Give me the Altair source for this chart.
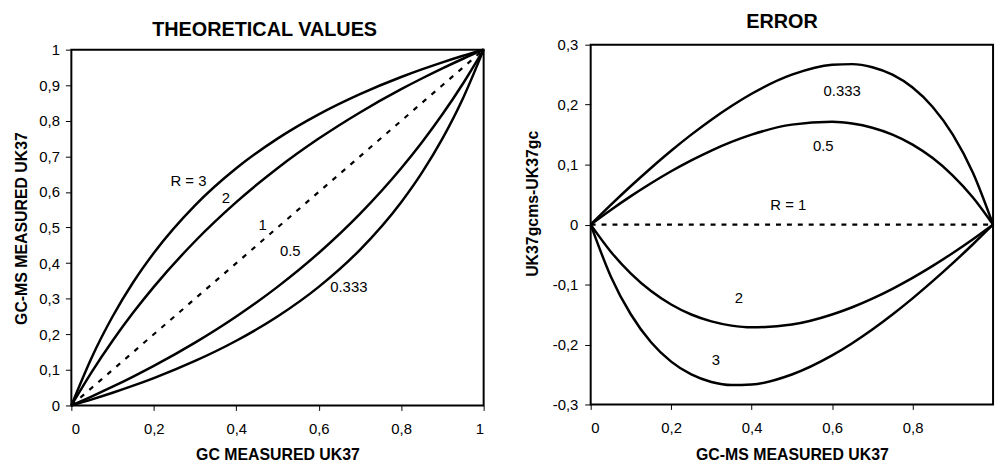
import altair as alt
import pandas as pd

# ---------------- data ----------------
# Left panel: GC measured UK37 (x) vs GC-MS measured UK37 (y)
left_x = [0, 0.05, 0.1, 0.15, 0.2, 0.3, 0.4, 0.5, 0.6, 0.7, 0.8, 0.85, 0.9, 0.95, 1]
left_r3 = [0, 0.1364, 0.25, 0.3462, 0.4286, 0.5625, 0.6667, 0.75, 0.8182, 0.875, 0.9231, 0.9444, 0.9643, 0.9828, 1]
left_r2 = [0, 0.0952, 0.1818, 0.2609, 0.3333, 0.4615, 0.5714, 0.6667, 0.75, 0.8235, 0.8889, 0.9189, 0.9474, 0.9744, 1]
left_r1 = [0, 0.05, 0.1, 0.15, 0.2, 0.3, 0.4, 0.5, 0.6, 0.7, 0.8, 0.85, 0.9, 0.95, 1]
left_r05 = [0, 0.0256, 0.0526, 0.0811, 0.1111, 0.1765, 0.25, 0.3333, 0.4286, 0.5385, 0.6667, 0.7391, 0.8182, 0.9048, 1]
left_r033 = [0, 0.0172, 0.0357, 0.0556, 0.0769, 0.125, 0.1818, 0.25, 0.3333, 0.4375, 0.5714, 0.6538, 0.75, 0.8636, 1]

# Right panel: GC-MS measured UK37 (x) vs error UK37gcms - UK37gc (y)
right_x = [0, 0.05, 0.1, 0.15, 0.2, 0.25, 0.3, 0.35, 0.4, 0.5, 0.6, 0.65, 0.7, 0.75, 0.8, 0.85, 0.9, 0.95, 1]
err_033 = [0, 0.0328, 0.0643, 0.0944, 0.1231, 0.15, 0.175, 0.1978, 0.2182, 0.25, 0.2667, 0.2676, 0.2625, 0.25, 0.2286, 0.1962, 0.15, 0.0864, 0]
err_05 = [0, 0.0244, 0.0474, 0.0689, 0.0889, 0.1071, 0.1235, 0.1379, 0.15, 0.1667, 0.1714, 0.1685, 0.1615, 0.15, 0.1333, 0.1109, 0.0818, 0.0452, 0]
err_1 = [0, 0, 0, 0, 0, 0, 0, 0, 0, 0, 0, 0, 0, 0, 0, 0, 0, 0, 0]
err_2 = [0, -0.0452, -0.0818, -0.1109, -0.1333, -0.15, -0.1615, -0.1685, -0.1714, -0.1667, -0.15, -0.1379, -0.1235, -0.1071, -0.0889, -0.0689, -0.0474, -0.0244, 0]
err_3 = [0, -0.0864, -0.15, -0.1962, -0.2286, -0.25, -0.2625, -0.2676, -0.2667, -0.25, -0.2182, -0.1978, -0.175, -0.15, -0.1231, -0.0944, -0.0643, -0.0328, 0]

# curve labels
left_lab_text = ["R = 3", "2", "1", "0.5", "0.333"]
left_lab_x = [0.284, 0.375, 0.464, 0.531, 0.673]
left_lab_y = [0.630, 0.582, 0.507, 0.435, 0.334]

right_lab_text = ["0.333", "0.5", "R = 1", "2", "3"]
right_lab_x = [0.625, 0.578, 0.491, 0.368, 0.311]
right_lab_y = [0.222, 0.131, 0.032, -0.123, -0.226]

left_ticks = [0, 0.1, 0.2, 0.3, 0.4, 0.5, 0.6, 0.7, 0.8, 0.9, 1]
left_xticks = [0, 0.2, 0.4, 0.6, 0.8, 1]
right_yticks = [-0.3, -0.2, -0.1, 0, 0.1, 0.2, 0.3]
right_xticks = [0, 0.2, 0.4, 0.6, 0.8]

# ---------------- tables ----------------
def long(xs, series):
    rows = []
    for name, ys in series.items():
        for i, (a, b) in enumerate(zip(xs, ys)):
            rows.append({"x": a, "y": b, "s": name, "o": i})
    return pd.DataFrame(rows)

left_solid = long(left_x, {"3": left_r3, "2": left_r2, "0.5": left_r05, "0.333": left_r033})
left_dash = long(left_x, {"1": left_r1})
right_solid = long(right_x, {"0.333": err_033, "0.5": err_05, "2": err_2, "3": err_3})
right_dash = long(right_x, {"1": err_1})
left_labels = pd.DataFrame({"x": left_lab_x, "y": left_lab_y, "t": left_lab_text})
right_labels = pd.DataFrame({"x": right_lab_x, "y": right_lab_y, "t": right_lab_text})

FONT = "Liberation Sans"
LABEL_EXPR = "replace(toString(datum.value), '.', ',')"

# ---------------- left panel ----------------
# the left frame sits a little lower than the right one; the y scale reaches
# slightly above 1 and the frame is drawn from 0 to 1
lx = alt.X("x:Q", scale=alt.Scale(domain=[0, 1], nice=False),
           axis=alt.Axis(values=left_xticks, title="GC MEASURED UK37", labelExpr=LABEL_EXPR,
                         tickSize=5, labelPadding=11, titleY=55, titleBaseline="alphabetic"))
ly = alt.Y("y:Q", scale=alt.Scale(domain=[0, 1.0139], nice=False),
           axis=alt.Axis(values=left_ticks, tickCount=12, title="GC-MS MEASURED UK37",
                         labelExpr=LABEL_EXPR, tickSize=6, labelPadding=6,
                         titleX=-44.8, titleY=185, titleBaseline="alphabetic"))

frame = alt.Chart(pd.DataFrame({"a": [0]})).mark_rect(
    fillOpacity=0, stroke="black", strokeWidth=2).encode(
    x=alt.datum(0), x2=alt.datum(1), y=alt.datum(0), y2=alt.datum(1))
l1 = alt.Chart(left_solid).mark_line(color="black", strokeWidth=2.5, interpolate="monotone").encode(
    x=lx, y=ly, detail="s:N", order="o:Q")
l2 = alt.Chart(left_dash).mark_line(color="black", strokeWidth=2.2, strokeDash=[5, 7]).encode(
    x="x:Q", y="y:Q", order="o:Q")
l3 = alt.Chart(left_labels).mark_text(font=FONT, fontSize=15, color="black").encode(
    x="x:Q", y="y:Q", text="t:N")

left = alt.layer(l1, l2, l3, frame).properties(
    width=416, height=364,
    view=alt.ViewBackground(stroke="transparent"),
    title=alt.TitleParams(text="THEORETICAL VALUES", font=FONT, fontSize=20, fontWeight="bold",
                          color="black", offset=2.5, dx=-13, anchor="middle"))

# ---------------- right panel ----------------
rx = alt.X("x:Q", scale=alt.Scale(domain=[0, 1], nice=False),
           axis=alt.Axis(values=right_xticks, title="GC-MS MEASURED UK37", labelExpr=LABEL_EXPR,
                         tickSize=5, labelPadding=11, titleY=56, titleBaseline="alphabetic"))
ry = alt.Y("y:Q", scale=alt.Scale(domain=[-0.3, 0.3], nice=False),
           axis=alt.Axis(values=right_yticks, tickCount=12, title="UK37gcms-UK37gc",
                         labelExpr=LABEL_EXPR, tickSize=6, labelPadding=7,
                         titleX=-53.3, titleY=160, titleBaseline="alphabetic"))

r1 = alt.Chart(right_solid).mark_line(color="black", strokeWidth=2.5, interpolate="monotone").encode(
    x=rx, y=ry, detail="s:N", order="o:Q")
r2 = alt.Chart(right_dash).mark_line(color="black", strokeWidth=2.2, strokeDash=[5, 6]).encode(
    x="x:Q", y="y:Q", order="o:Q")
r3 = alt.Chart(right_labels).mark_text(font=FONT, fontSize=15, color="black").encode(
    x="x:Q", y="y:Q", text="t:N")

right = alt.layer(r1, r2, r3).properties(
    width=406, height=363,
    title=alt.TitleParams(text="ERROR", font=FONT, fontSize=20, fontWeight="bold",
                          color="black", offset=5.5, dx=-10, anchor="middle"))

chart = alt.hconcat(left, right, spacing=34).properties(
    padding={"left": 13, "top": 9, "right": 0, "bottom": 0},
    background="white",
).configure_view(stroke="black", strokeWidth=2).configure_axis(
    grid=False, domain=False, tickColor="black", tickWidth=1,
    labelFont=FONT, labelFontSize=15, labelColor="black",
    titleFont=FONT, titleFontSize=16, titleFontWeight="bold", titleColor="black",
)

chart.save("out.html", embed_options={"renderer": "svg", "actions": False})
